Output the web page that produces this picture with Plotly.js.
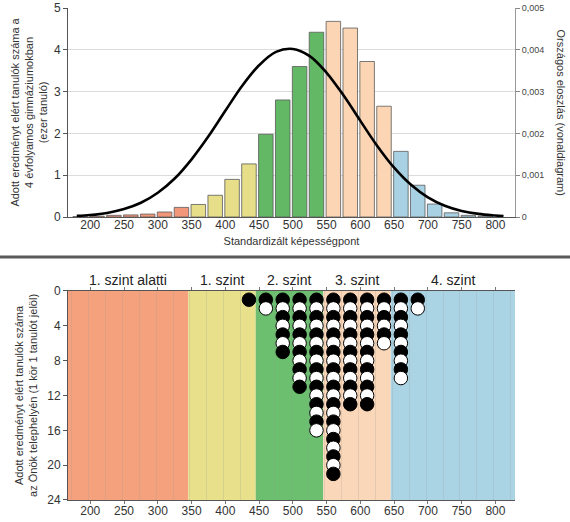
<!DOCTYPE html>
<html>
<head>
<meta charset="utf-8">
<script src="https://cdn.plot.ly/plotly-3.0.1.min.js"></script>
<style>html,body{margin:0;padding:0;background:#fff;}#chart{width:570px;height:522px;}</style>
</head>
<body>
<div id="chart"></div>
<script>
// ---- data ----
const binCenters = [185,210,235,260,285,310,335,360,385,410,435,460,485,510,535,560,585,610,635,660,685,710,735,760,785];
const nationalCounts = [0.01,0.02,0.04,0.05,0.07,0.12,0.23,0.30,0.52,0.90,1.27,1.98,2.80,3.60,4.42,4.68,4.52,3.72,2.65,1.57,0.76,0.31,0.10,0.04,0.02];
const curveX = [180,200,225,250,275,300,325,350,375,400,425,450,475,500,525,550,575,600,625,650,675,700,725,750,775,800,812];
const curveY = [0.000026,0.000047,0.000098,0.00019,0.00034,0.00058,0.00092,0.00138,0.00193,0.00254,0.00314,0.00363,0.00395,0.00402,0.00385,0.00345,0.00291,0.00230,0.00170,0.00118,0.00077,0.00047,0.00027,0.000146,0.000074,0.000035,0.00002];
const siteX = [435,460,485,510,535,560,585,610,635,660,685];
const siteCounts = [1,2,7,11,16,21,13,13,6,10,2];
const bandEdges = [167,345,445,545,645,829];
const bandLabels = ["1. szint alatti","1. szint","2. szint","3. szint","4. szint"];
const bandColors = ["#F5A17E","#E8E08B","#6BBF6E","#FAD7B8","#AAD4E3"];
const barColors = ["#F2967A","#E6DE88","#62B865","#FBD5B4","#A8D2E3"];
const xTicks = [200,250,300,350,400,450,500,550,600,650,700,750,800];

const FONT = "Liberation Sans, Arial, sans-serif";
const xRange = [bandEdges[0], bandEdges[bandEdges.length-1]];

function bandIndex(x){
  for (let i=0;i<bandEdges.length-1;i++){ if (x>=bandEdges[i] && x<bandEdges[i+1]) return i; }
  return bandEdges.length-2;
}

// national bars
const bars = {
  type:'bar', x:binCenters, y:nationalCounts, xaxis:'x', yaxis:'y', width:21.5,
  marker:{color:binCenters.map(c=>barColors[bandIndex(c)]), line:{color:'#5a5a5a', width:0.8}},
  hoverinfo:'x+y', showlegend:false
};
const curve = {
  type:'scatter', mode:'lines', x:curveX, y:curveY, xaxis:'x', yaxis:'y3',
  line:{color:'#000', width:2.6, shape:'spline'}, showlegend:false
};
// local circles: one marker per student
const cx=[], cy=[], cc=[];
siteX.forEach((x,i)=>{
  for (let k=1;k<=siteCounts[i];k++){ cx.push(x); cy.push(k); cc.push(k%2===1?'#000':'#fff'); }
});
const circles = {
  type:'scatter', mode:'markers', x:cx, y:cy, xaxis:'x2', yaxis:'y2',
  marker:{size:13.5, color:cc, line:{color:'#000', width:1}}, showlegend:false
};
// invisible trace for the minor grid axis
const gridHelper = {type:'scatter', mode:'markers', x:[xRange[0]], y:[0], xaxis:'x3', yaxis:'y2', marker:{opacity:0}, hoverinfo:'skip', showlegend:false};

const shapes = [];
const annotations = [];
for (let i=0;i<bandLabels.length;i++){
  shapes.push({type:'rect', layer:'below', xref:'x2', yref:'y2 domain', x0:bandEdges[i], x1:bandEdges[i+1], y0:0, y1:1, fillcolor:bandColors[i], line:{width:0}});
  annotations.push({xref:'x2', yref:'y2 domain', x:(bandEdges[i]+bandEdges[i+1])/2, y:1, yanchor:'bottom', yshift:1, showarrow:false,
    text:bandLabels[i], font:{family:FONT, size:14, color:'#222'}});
}
// separator line between panels
shapes.push({type:'line', xref:'paper', yref:'paper', x0:-0.2, x1:1.2, y0:0.4939, y1:0.4939, line:{color:'#5a5a5a', width:3}});

annotations.push({xref:'paper', yref:'paper', x:-0.087, y:0.7876, xanchor:'center', yanchor:'middle', textangle:-90, showarrow:false,
  text:'Adott eredményt elért tanulók száma a<br>4 évfolyamos gimnáziumokban<br>(ezer tanuló)', font:{family:FONT, size:11, color:'#333'}});
annotations.push({xref:'paper', yref:'paper', x:1.105, y:0.7876, xanchor:'center', yanchor:'middle', textangle:90, showarrow:false,
  text:'Országos eloszlás (vonaldiagram)', font:{family:FONT, size:11, color:'#333'}});
annotations.push({xref:'paper', yref:'paper', x:-0.093, y:0.2124, xanchor:'center', yanchor:'middle', textangle:-90, showarrow:false,
  text:'Adott eredményt elért tanulók száma<br>az Önök telephelyén (1 kör 1 tanulót jelöl)', font:{family:FONT, size:11, color:'#333'}});

const layout = {
  width:570, height:522, margin:{l:68, r:55, t:8, b:22},
  paper_bgcolor:'#fff', plot_bgcolor:'rgba(0,0,0,0)',
  font:{family:FONT, size:12, color:'#333'},
  separators:', ',
  showlegend:false,
  xaxis:{domain:[0,1], anchor:'y', range:xRange, tickvals:xTicks, showline:true, linecolor:'#555', linewidth:1,
    ticks:'', showgrid:false, zeroline:false, tickfont:{size:12}, ticklabelstandoff:-3,
    title:{text:'Standardizált képességpont', font:{size:11, color:'#333'}, standoff:5}},
  yaxis:{domain:[0.5752,1], anchor:'x', range:[0,5], dtick:1, ticks:'outside', ticklen:4, tickcolor:'#555',
    showline:true, linecolor:'#555', gridcolor:'#dcdcdc', zeroline:false, tickfont:{size:12}},
  yaxis3:{overlaying:'y', anchor:'x', side:'right', range:[0,0.005], dtick:0.001, ticks:'outside', ticklen:4, tickcolor:'#888',
    showline:true, linecolor:'#999', showgrid:false, zeroline:false, tickfont:{size:9, color:'#444'}},
  xaxis2:{domain:[0,1], anchor:'y2', range:xRange, tickvals:xTicks, showline:true, linecolor:'#555', mirror:'ticks',
    ticks:'outside', ticklen:3, tickcolor:'#777', showgrid:false, zeroline:false, tickfont:{size:12}, ticklabelstandoff:-3},
  xaxis3:{overlaying:'x2', anchor:'y2', range:xRange, tick0:172.5, dtick:25, showgrid:true, gridcolor:'rgba(150,150,150,0.22)',
    gridwidth:1, showticklabels:false, ticks:'', zeroline:false, showline:false},
  yaxis2:{domain:[0,0.4248], anchor:'x2', range:[24,0], tickvals:[0,4,8,12,16,20,24], ticks:'outside', ticklen:4, tickcolor:'#555',
    showline:true, linecolor:'#555', showgrid:false, zeroline:false, tickfont:{size:12}},
  shapes:shapes, annotations:annotations
};

Plotly.newPlot('chart', [bars, curve, gridHelper, circles], layout, {displayModeBar:false, staticPlot:true});
</script>
</body>
</html>
